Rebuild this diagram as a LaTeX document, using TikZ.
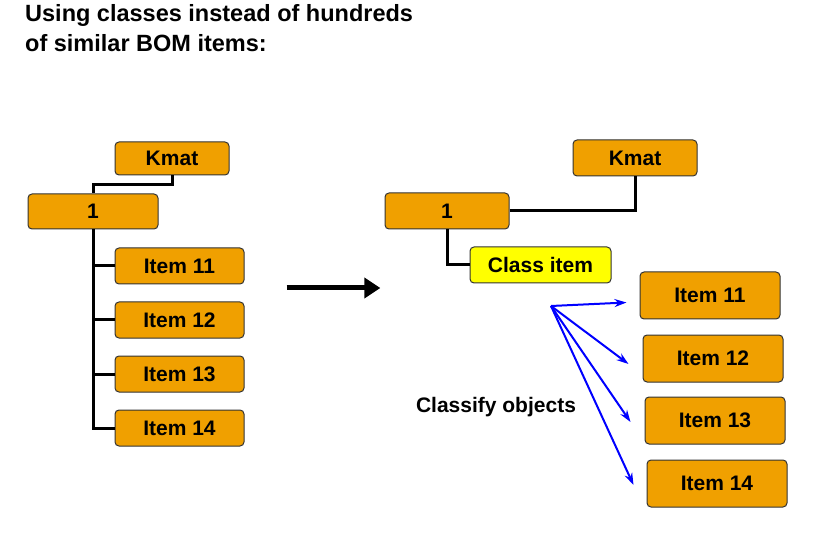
\documentclass[tikz,border=0pt]{standalone}
\usepackage{fontspec}
\setmainfont{Liberation Sans}
\usetikzlibrary{arrows.meta}
\definecolor{bomorange}{RGB}{240,160,0}
\definecolor{bomyellow}{RGB}{255,255,0}
\newcommand{\itemtext}[1]{\fontsize{21}{25}\selectfont\bfseries #1}

\begin{document}
\begin{tikzpicture}[
      x=1pt, y=-1pt,
      every node/.style={inner sep=0pt},
      bombox/.style={draw=black!80, line width=1pt, fill=bomorange, rounded corners=4pt,
        minimum width=#1, minimum height=35pt},
      bombox/.default=130pt,
      classbox/.style={bombox=141pt, fill=bomyellow},
      bigbox/.style={bombox=140pt, minimum height=47pt},
      link/.style={line width=3pt, black},
      classify/.style={line width=2pt, blue, -{Stealth[length=12pt,width=8pt]}}
    ]
      \useasboundingbox[fill=white] (0,0) rectangle (840,534);

      % Title
      \node[anchor=north west, align=left, font=\fontsize{23.5}{30}\selectfont\bfseries]
        (title) at (25,4) {Using classes instead of hundreds\\of similar BOM items:};

      % Left side: one BOM item per component
      \node[bombox=114pt, minimum height=33pt] (kmatL) at (172,158.5) {\itemtext{Kmat}};
      \node[bombox=130pt] (oneL) at (93,211.5) {\itemtext{1}};
      \foreach \i/\y in {1/266, 2/320, 3/374, 4/428}
        \node[bombox=129pt, minimum height=36pt] (itemL\i) at (179.5,\y) {\itemtext{Item 1\i}};

      \draw[link] (kmatL.south) -- ++(0,9) -| (oneL.north);
      \draw[link] (oneL.south) |- (itemL4.west);
      \foreach \i in {1,2,3}
        \draw[link] (oneL.south |- itemL\i.west) -- (itemL\i.west);

      % Arrow between the two variants
      \node (arrowStart) at (286,288) {};
      \node (arrowEnd) at (381,288) {};
      \draw[line width=5pt, -{Triangle[length=16pt,width=20pt]}] (arrowStart) -- (arrowEnd);

      % Right side: one class item
      \node[bombox=124pt, minimum height=36pt] (kmatR) at (635,158) {\itemtext{Kmat}};
      \node[bombox=124pt, minimum height=36pt] (oneR) at (447,211) {\itemtext{1}};
      \node[classbox, minimum height=36pt] (classR) at (540.5,265) {\itemtext{Class item}};

      \draw[link] (oneR.east) -| (kmatR.south);
      \draw[link] (oneR.south) |- (classR.west);

      \foreach \i/\x/\y in {1/710/295.5, 2/713/358.5, 3/715/420.5, 4/717/483.5}
        \node[bigbox] (itemR\i) at (\x,\y) {\itemtext{Item 1\i}};

      % Classification fan
      \coordinate (fan) at (551,306);
      \draw[classify] (fan) -- ([shift={(-13,7)}]itemR1.west);
      \draw[classify] (fan) -- ([shift={(-14,5.5)}]itemR2.west);
      \draw[classify] (fan) -- ([shift={(-14,1.5)}]itemR3.west);
      \draw[classify] (fan) -- ([shift={(-13,1.5)}]itemR4.west);

      \node (classifyLabel) at (496,407) {\fontsize{21}{25}\selectfont\bfseries Classify objects};
    \end{tikzpicture}
\end{document}
